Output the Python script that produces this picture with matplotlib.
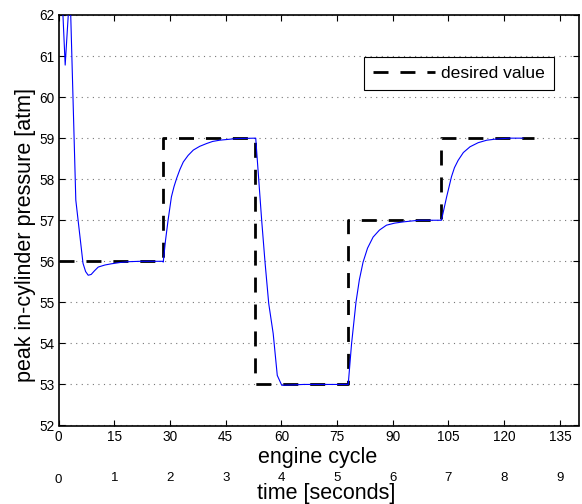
import matplotlib
matplotlib.use("Agg")
import matplotlib.pyplot as plt
from matplotlib.transforms import blended_transform_factory

plt.rcParams['font.family'] = ['Liberation Sans', 'DejaVu Sans']

# measured response (engine cycle, peak pressure [atm])
cycle = [1.0, 1.8, 2.9, 3.2, 4.66, 6.6, 7.3, 8.0, 8.8, 9.7, 10.7, 12.5, 14.3, 16.5, 18.7, 22.0, 28.0,
         28.2, 28.8, 29.5, 30.4, 31.1, 31.8, 32.7, 33.6, 34.9, 36.3, 38.0, 39.9, 41.5, 43.4, 47.9, 53.0,
         53.1, 54.7, 55.6, 56.6, 57.8, 58.9, 60.1, 66.0, 72.0, 77.9,
         78.0, 78.9, 80.1, 81.0, 82.0, 83.2, 84.7, 86.4, 88.3, 90.5, 92.8, 97.0, 103.0,
         103.1, 104.5, 105.8, 106.6, 107.6, 109.0, 110.8, 113.0, 115.3, 118.0, 121.5, 125.1]
pressure = [62.4, 60.78, 62.4, 62.3, 57.49, 55.95, 55.75, 55.66, 55.68, 55.77, 55.86, 55.91, 55.94, 55.97, 55.99, 56.0, 56.0,
            55.98, 56.5, 57.0, 57.57, 57.82, 58.02, 58.24, 58.42, 58.58, 58.71, 58.80, 58.87, 58.92, 58.95, 58.99, 59.0,
            59.0, 57.0, 55.98, 54.97, 54.24, 53.22, 52.98, 53.0, 53.0, 53.0,
            53.0, 53.99, 55.01, 55.55, 55.98, 56.32, 56.59, 56.76, 56.88, 56.93, 56.96, 57.0, 57.0,
            57.0, 57.57, 58.06, 58.28, 58.46, 58.65, 58.79, 58.89, 58.95, 58.98, 59.0, 59.0]

# desired value (stairs)
desired_cycle = [0, 28, 28, 53, 53, 78, 78, 103, 103, 128]
desired_value = [56, 56, 59, 59, 53, 53, 57, 57, 59, 59]

xticks = [0, 15, 30, 45, 60, 75, 90, 105, 120, 135]
yticks = [52, 53, 54, 55, 56, 57, 58, 59, 60, 61, 62]
time_labels = ['0', '1', '2', '3', '4', '5', '6', '7', '8', '9']

W, H = 582, 504
fig = plt.figure(figsize=(W / 100, H / 100), dpi=100)
ax = fig.add_axes([58.5 / W, 1 - 425.5 / H, 520 / W, 410.5 / H])

ax.plot(cycle, pressure, color='#0000ff', lw=0.8, zorder=3)
ax.plot(desired_cycle, desired_value, color='black', lw=2.0,
        dashes=(5.4, 4.3), label='desired value', zorder=2)

ax.set_xlim(0, 140)
ax.set_ylim(52, 62)
ax.set_xticks(xticks)
ax.set_yticks(yticks)
ax.tick_params(which='both', direction='in', top=True, right=True,
               length=4, width=0.8, labelsize=9.8, pad=3)
for s in ax.spines.values():
    s.set_linewidth(1.2)
ax.yaxis.grid(True, color='#777777', linestyle=(0, (1, 4)), lw=0.8)
ax.set_axisbelow(True)

ax.set_ylabel('peak in-cylinder pressure [atm]', fontsize=15.5)
ax.yaxis.set_label_coords(-0.044, 0.463)

fig.text(318 / W, 1 - 458 / H, 'engine cycle', fontsize=15.5, ha='center', va='center')
tr = blended_transform_factory(ax.transData, fig.transFigure)
for i, (xv, lab) in enumerate(zip(xticks, time_labels)):
    yp = 480 if i == 0 else 478
    ax.text(xv, 1 - yp / H, lab, transform=tr, fontsize=9.5, ha='center', va='center')
fig.text(326 / W, 1 - 494 / H, 'time [seconds]', fontsize=15.5, ha='center', va='center')

leg = ax.legend(loc='upper right', bbox_to_anchor=(0.953, 0.8977), fontsize=12.6,
                frameon=True, fancybox=False, framealpha=1, borderaxespad=0,
                handlelength=3.55, handletextpad=0.35, borderpad=0.5)
leg.get_frame().set_edgecolor('black')
leg.get_frame().set_linewidth(0.8)

fig.savefig('out.png', dpi=100)
